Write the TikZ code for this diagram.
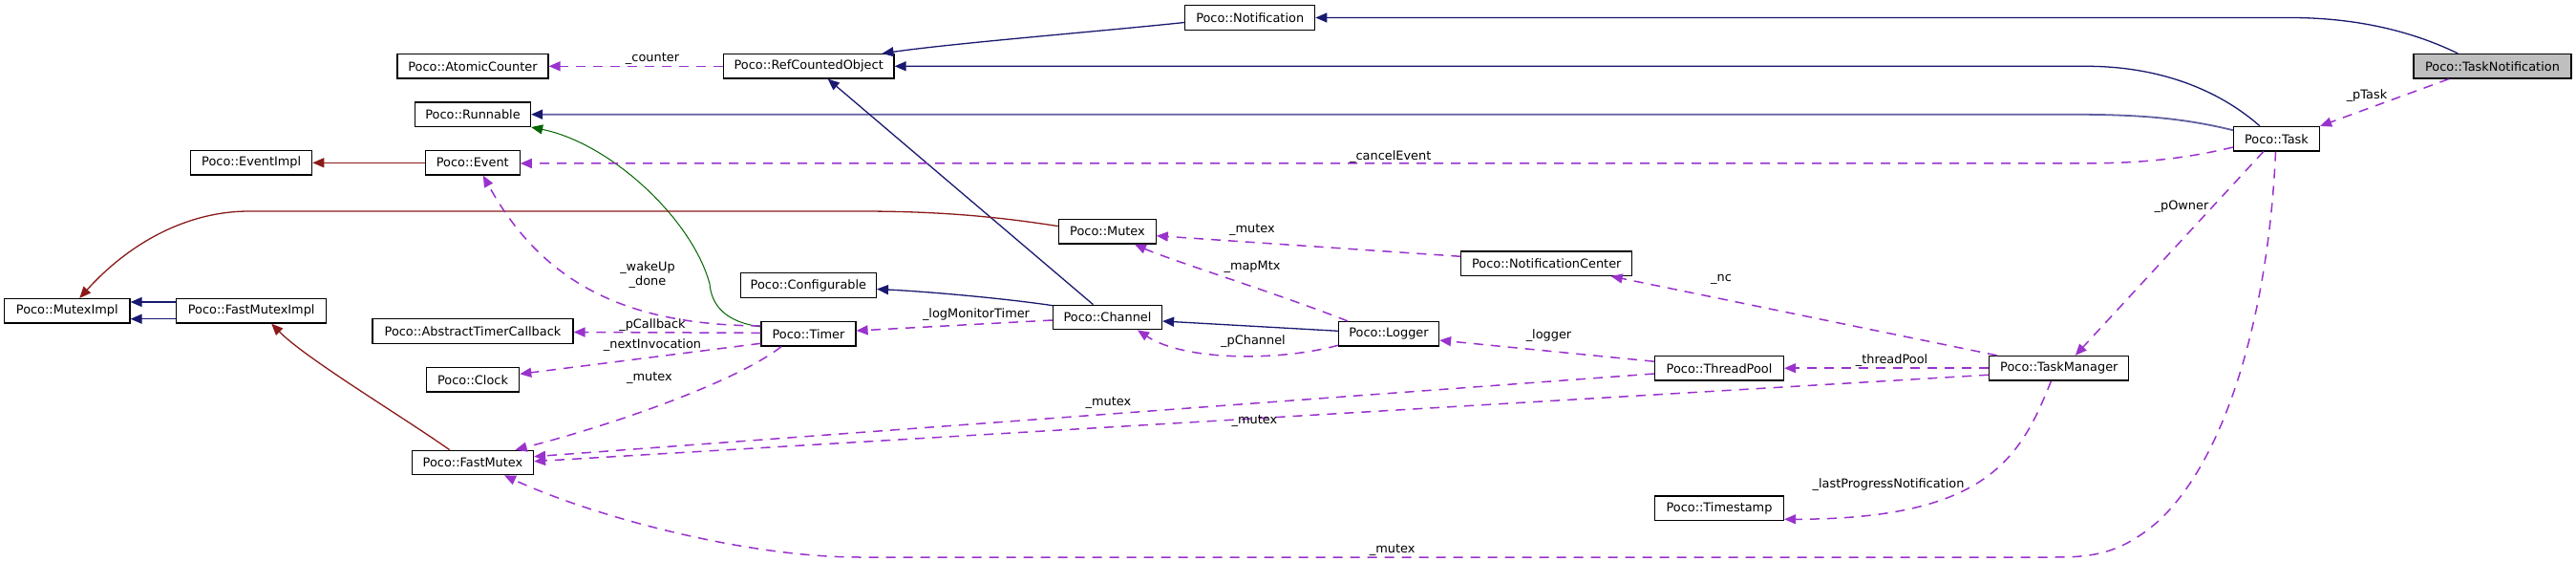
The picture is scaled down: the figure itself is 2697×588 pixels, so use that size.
\documentclass[tikz,border=0pt]{standalone}
\usepackage{fontspec}
\setmainfont{DejaVu Sans}
\usetikzlibrary{arrows.meta,calc}
\definecolor{inhblue}{RGB}{25,25,112}
\definecolor{runblue}{RGB}{95,95,160}
\definecolor{protgreen}{RGB}{0,100,0}
\definecolor{privred}{RGB}{139,26,26}
\definecolor{usepurple}{RGB}{154,50,205}
\definecolor{boxgray}{RGB}{191,191,191}
\begin{document}
\begin{tikzpicture}[x=1pt,y=-1pt,
  box/.style={draw=black,fill=white,line width=1.2pt,minimum height=25.5pt,inner sep=0pt,font=\fontsize{12.9}{15}\selectfont},
  lbl/.style={font=\fontsize{12.9}{15}\selectfont,inner sep=0pt,align=center},
  inh/.style={-{Triangle[length=12pt,width=10pt]},draw=inhblue,line width=1.3pt},
  runinh/.style={-{Triangle[length=12pt,width=10pt,color=inhblue]},draw=runblue,line width=1.8pt},
  prot/.style={-{Triangle[length=12pt,width=10pt]},draw=protgreen,line width=1pt},
  priv/.style={-{Triangle[length=12pt,width=10pt]},draw=privred,line width=1.3pt},
  use/.style={-{Triangle[length=12pt,width=10pt]},draw=usepurple,line width=1.5pt,dash pattern=on 10pt off 8pt}]
\useasboundingbox (0,0) rectangle (2697,588);

% nodes
\node[box,minimum width=165pt,fill=boxgray] (TN) at (2609.5,69.3) {Poco::TaskNotification};
\node[box,minimum width=136pt] (Notif) at (1308.7,18.5) {Poco::Notification};
\node[box,minimum width=178.6pt] (RCO) at (846.7,69.3) {Poco::RefCountedObject};
\node[box,minimum width=158pt] (AC) at (495,69.3) {Poco::AtomicCounter};
\node[box,minimum width=121pt] (Run) at (495,119.7) {Poco::Runnable};
\node[box,minimum width=127pt] (EvI) at (263.2,170.3) {Poco::EventImpl};
\node[box,minimum width=98.7pt] (Ev) at (494.8,170.3) {Poco::Event};
\node[box,minimum width=90pt] (Task) at (2383.5,145.2) {Poco::Task};
\node[box,minimum width=101.4pt] (Mtx) at (1159.5,242.3) {Poco::Mutex};
\node[box,minimum width=179pt] (NC) at (1619.3,275.7) {Poco::NotificationCenter};
\node[box,minimum width=131.4pt] (MI) at (70.3,325.3) {Poco::MutexImpl};
\node[box,minimum width=156.7pt] (FMI) at (263.2,325.3) {Poco::FastMutexImpl};
\node[box,minimum width=142pt] (Conf) at (846.4,298.5) {Poco::Configurable};
\node[box,minimum width=114pt] (Chan) at (1159.5,332) {Poco::Channel};
\node[box,minimum width=210pt] (ATC) at (495,346.5) {Poco::AbstractTimerCallback};
\node[box,minimum width=99pt] (Timer) at (846.5,349.3) {Poco::Timer};
\node[box,minimum width=105pt] (Log) at (1454,349.3) {Poco::Logger};
\node[box,minimum width=135pt] (TP) at (1800,385.2) {Poco::ThreadPool};
\node[box,minimum width=146pt] (TM) at (2155.8,385.2) {Poco::TaskManager};
\node[box,minimum width=97.4pt] (Clock) at (495,397.3) {Poco::Clock};
\node[box,minimum width=127pt] (FM) at (495,484) {Poco::FastMutex};
\node[box,minimum width=135pt] (TS) at (1800,531.7) {Poco::Timestamp};

% inheritance
\draw[inh] ([xshift=47pt]TN.north west) .. controls (2520,30) and (2460,18.5) .. (2398,18.5) -- (Notif.east);
\draw[inh] ([yshift=-5pt]Notif.west) .. controls (1150,33) and (1000,45) .. ([xshift=-13pt]RCO.north east);
\draw[inh] ([xshift=28pt]Task.north west) .. controls (2330,100) and (2270,69.3) .. (2184,69.3) -- (RCO.east);
\draw[runinh] ([yshift=-4.4pt]Task.north west) .. controls (2280,122) and (2230,119.7) .. (2160,119.7) -- (Run.east);
\draw[prot] ([yshift=-6pt]Timer.north west) .. controls (760,337) and (745,320) .. (743,297) .. controls (725,230) and (640,150) .. (Run.south east);
\draw[inh] ([xshift=-15pt]Chan.north) -- ([xshift=20pt]RCO.south);
\draw[inh] ([yshift=-1pt]Chan.north west) .. controls (1050,312) and (970,305) .. ([yshift=-4pt]Conf.east);
\draw[inh] ([yshift=3pt]Log.west) -- ([yshift=-4pt]Chan.east);
\draw[priv] ([yshift=5.6pt]Mtx.west) .. controls (1040,226) and (980,221) .. (900,221) -- (261,221) .. controls (190,221) and (130,260) .. ([xshift=13pt]MI.north);
\draw[inh] ([yshift=9.3pt]FMI.west) -- ([yshift=9.3pt]MI.east);
\draw[inh] ([yshift=-8.4pt]FMI.west) -- ([yshift=-8.4pt]MI.east);
\draw[priv] ([xshift=-24.3pt]FM.north) .. controls (420,435) and (320,375) .. ([xshift=21pt]FMI.south);
\draw[priv] (Ev.west) -- (EvI.east);

% usage
\draw[use] (RCO.west) -- (AC.east);
\draw[use] ([yshift=-8.8pt]Task.west) .. controls (2280,168) and (2230,171) .. (2175,171) -- ([yshift=-0.7pt]Ev.east);
\draw[use] ([xshift=-45.7pt]TN.south) -- (Task.north east);
\draw[use] ([xshift=-13.7pt]Task.south) -- ([xshift=17pt]TM.north);
\draw[use] ([xshift=-1pt]Task.south) .. controls (2375,330) and (2330,480) .. (2260,545) .. controls (2220,580) and (2190,583) .. (2150,583) -- (900,583) .. controls (780,583) and (620,540) .. ([xshift=33pt]FM.south);
\draw[use] ([yshift=-5pt]Timer.north west) .. controls (660,340) and (570,300) .. ([xshift=11pt]Ev.south);
\draw[use] ([yshift=1pt]Timer.west) -- ([yshift=-1pt]ATC.east);
\draw[use] ([yshift=-10pt]Timer.west) -- ([yshift=6pt]Clock.east);
\draw[use] ([xshift=-28.5pt]Timer.south) .. controls (770,400) and (640,445) .. ([xshift=44.6pt]FM.north);
\draw[use] ([yshift=-3pt]Chan.west) -- ([yshift=3.3pt]Timer.east);
\draw[use] ([xshift=-43pt]Log.north) .. controls (1340,308) and (1225,272) .. ([xshift=28.4pt]Mtx.south);
\draw[use] ([yshift=-12pt]Log.west) .. controls (1340,378) and (1240,378) .. ([xshift=31.5pt]Chan.south);
\draw[use] ([yshift=7.4pt]NC.west) -- ([yshift=-4.4pt]Mtx.east);
\draw[use] ([xshift=-65pt]TM.north) -- ([xshift=67.4pt]NC.south);
\draw[use] ([yshift=7pt]TP.west) -- ([yshift=-6.7pt]Log.east);
\draw[use] (TM.west) -- (TP.east);
\draw[use] ([yshift=-5.8pt]TP.west) -- ([yshift=6.3pt]FM.east);
\draw[use] ([yshift=-7pt]TM.west) -- ([yshift=1.3pt]FM.east);
\draw[use] ([xshift=-8.3pt]TM.south) .. controls (2115,480) and (2080,543) .. ([yshift=-11.6pt]TS.east);

% labels
\node[lbl] (lcounter) at (683,61) {\_counter};
\node[lbl] (lcancel) at (1455.7,164) {\_cancelEvent};
\node[lbl] (lptask) at (2478,100) {\_pTask};
\node[lbl] (lpowner) at (2284,216) {\_pOwner};
\node[lbl] (lwake) at (678,287.5) {\_wakeUp\\\_done};
\node[lbl] (lpcb) at (683,340) {\_pCallback};
\node[lbl] (lnext) at (683,360.7) {\_nextInvocation};
\node[lbl] (lmtxtimer) at (680,395) {\_mutex};
\node[lbl] (llog) at (1022,329) {\_logMonitorTimer};
\node[lbl] (lmtxnc) at (1311,240.7) {\_mutex};
\node[lbl] (lmap) at (1311,279.3) {\_mapMtx};
\node[lbl] (lpchan) at (1312,356.7) {\_pChannel};
\node[lbl] (llogger) at (1621.5,351) {\_logger};
\node[lbl] (lnc) at (1802,292.3) {\_nc};
\node[lbl] (ltp) at (1980.5,376.7) {\_threadPool};
\node[lbl] (lmtxtp) at (1160.5,421) {\_mutex};
\node[lbl] (lmtxtm) at (1313.5,440) {\_mutex};
\node[lbl] (llpn) at (1977,506.7) {\_lastProgressNotification};
\node[lbl] (lmtxtask) at (1457.6,575) {\_mutex};
\end{tikzpicture}
\end{document}
